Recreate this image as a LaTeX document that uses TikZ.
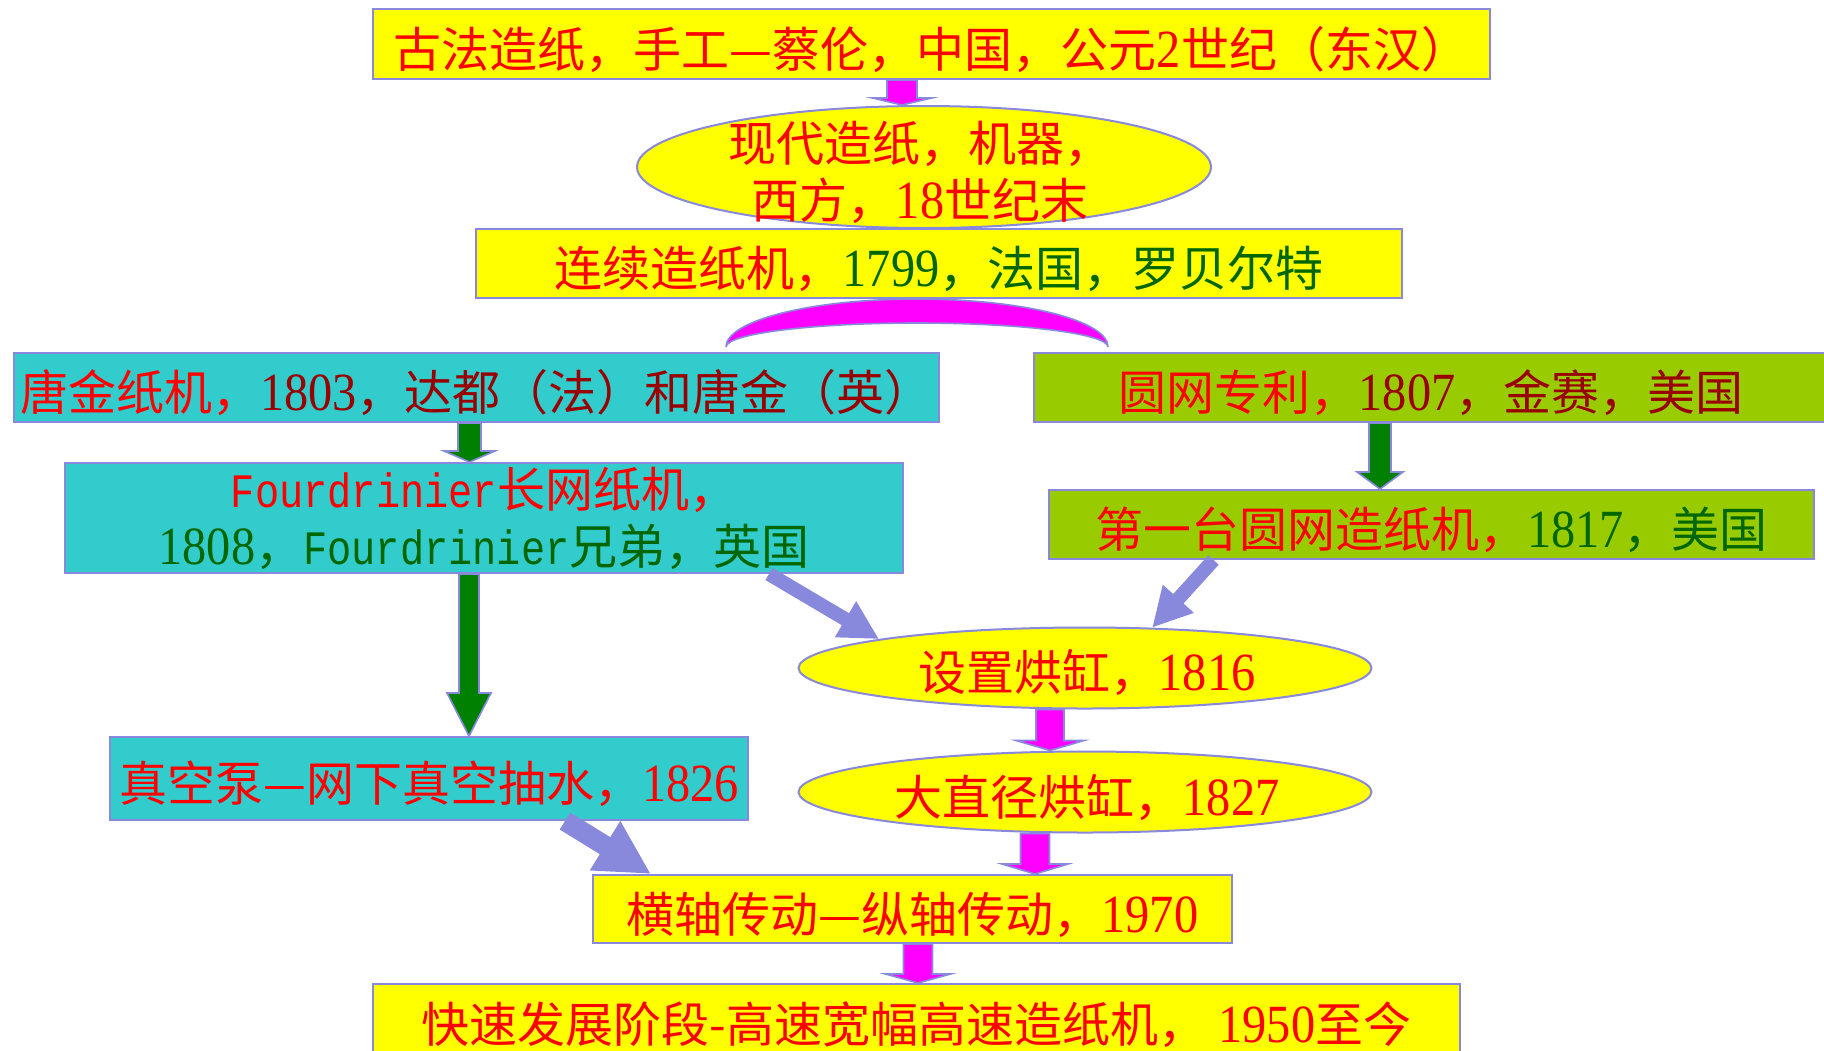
\documentclass[tikz,border=0pt]{standalone}
\usepackage{fontspec}
\newfontfamily\cjk{Noto Sans CJK SC}
\newfontfamily\yrfont[Scale=1.12, FakeStretch=0.9]{Liberation Serif}
\newfontfamily\enfont[FakeStretch=0.84]{Liberation Mono}
\usetikzlibrary{shapes.geometric,arrows.meta,calc}
\definecolor{edge}{RGB}{136,136,221}
\definecolor{boxyellow}{RGB}{255,255,0}
\definecolor{pink}{RGB}{255,0,255}
\definecolor{tealbox}{HTML}{33CCCC}
\definecolor{limebox}{HTML}{99CC00}
\definecolor{fontred}{RGB}{255,0,0}
\definecolor{dkred}{HTML}{990000}
\definecolor{dkgreen}{HTML}{006600}
\definecolor{arrowgreen}{HTML}{008000}
\newcommand{\yr}[1]{{\yrfont #1}}
\newcommand{\en}[1]{{\enfont #1}}
% fill, from, to, shaft half width, head half width, head length
\newcommand{\blockarrow}[6]{%
	\draw[blockedge, fill=#1] let \p1=(#2), \p2=(#3) in
		(\x1-#4,\y1) -- (\x1-#4,\y2+#6) -- (\x1-#5,\y2+#6) -- (\x1,\y2)
		-- (\x1+#5,\y2+#6) -- (\x1+#4,\y2+#6) -- (\x1+#4,\y1) -- cycle;}
\begin{document}
\begin{tikzpicture}[x=0.5pt, y=-0.5pt,
		txt/.style={text=fontred, inner sep=0pt, font=\cjk\fontsize{24}{28.5}\selectfont},
		box/.style={txt, draw=edge, line width=1pt, text height=23pt, text depth=0pt},
		ellip/.style={ellipse, draw=edge, line width=1pt, fill=boxyellow, inner sep=0pt},
		blockedge/.style={draw=edge, line width=0.8pt},
		lavarrow/.style={draw=edge, line width=7pt, -{Triangle[length=19.5pt,width=19.5pt]}}]
	\useasboundingbox (0,0) rectangle (1824,1050);
	\clip (0,0) rectangle (1824,1050);

	\node[box, fill=boxyellow, minimum width=558.5pt, minimum height=35pt] (ancient) at (931.5,44)
		{古法造纸，手工—蔡伦，中国，公元\yr{2}世纪（东汉）};
	\node[ellip, minimum width=287pt, minimum height=61pt] (modern) at (924,167) {};
	\node[txt, align=center] (modern-t) at (920,172) {现代造纸，机器，\\西方，\yr{18}世纪末};
	\node[box, fill=boxyellow, minimum width=463pt, minimum height=34.5pt] (continuous) at (939,263.5)
		{连续造纸机，{\color{dkgreen}\yr{1799}，法国，罗贝尔特}};

	\node[box, fill=tealbox, minimum width=462.5pt, minimum height=34.5pt] (donkin) at (476.5,387.5)
		{唐金纸机，{\color{dkred}\yr{1803}，达都（法）和唐金（英）}};
	\node[box, fill=limebox, minimum width=397pt, minimum height=34.5pt] (patent) at (1431,387.5)
		{圆网专利，{\color{dkred}\yr{1807}，金赛，美国}};
	\node[box, fill=tealbox, minimum width=419pt, minimum height=55pt, align=center,
		text height={}, text depth={}] (fourdrinier) at (484,518)
		{\en{Fourdrinier}长网纸机，\\{\color{dkgreen}\yr{1808}，\en{Fourdrinier}兄弟，英国}};
	\node[box, fill=limebox, minimum width=382.5pt, minimum height=34.5pt] (cylinder) at (1431.5,524.5)
		{第一台圆网造纸机，{\color{dkgreen}\yr{1817}，美国}};

	\node[ellip, minimum width=286.5pt, minimum height=40.5pt] (dryer) at (1085,668) {};
	\node[txt] (dryer-t) at (1087,673) {设置烘缸，\yr{1816}};
	\node[ellip, minimum width=286.5pt, minimum height=40.5pt] (bigdryer) at (1085,792) {};
	\node[txt] (bigdryer-t) at (1087,798) {大直径烘缸，\yr{1827}};
	\node[box, fill=tealbox, minimum width=319pt, minimum height=41.5pt] (vacuum) at (429,778.5)
		{真空泵—网下真空抽水，\yr{1826}};
	\node[box, fill=boxyellow, minimum width=319.5pt, minimum height=34pt] (drive) at (912.5,909)
		{横轴传动—纵轴传动，\yr{1970}};
	\node[box, fill=boxyellow, minimum width=543.5pt, minimum height=35pt] (highspeed) at (916.5,1019)
		{快速发展阶段-高速宽幅高速造纸机，\yr{ 1950}至今};

	% block arrows
	\blockarrow{pink}{[xshift=-14.75pt]ancient.south}{modern.north}{7.5pt}{14.75pt}{3.5pt}
	\blockarrow{arrowgreen}{[xshift=-3.5pt]donkin.south}{fourdrinier.north}{5.75pt}{12.75pt}{5.5pt}
	\blockarrow{arrowgreen}{[xshift=-25.5pt]patent.south}{cylinder.north}{5.5pt}{11.5pt}{8.5pt}
	\blockarrow{arrowgreen}{[xshift=-7.5pt]fourdrinier.south}{vacuum.north}{5pt}{11pt}{21.5pt}
	\blockarrow{pink}{[xshift=-17.5pt]dryer.south}{bigdryer.north}{7pt}{17pt}{5pt}
	\blockarrow{pink}{[xshift=-25pt]bigdryer.south}{drive.north}{7.25pt}{16.5pt}{5pt}
	\blockarrow{pink}{[xshift=2.75pt]drive.south}{highspeed.north}{7.25pt}{16.25pt}{4.5pt}

	% split under the 1799 machine
	\coordinate (fork) at ([xshift=-11pt,yshift=-24pt]continuous.south);
	\draw[blockedge, fill=pink] ([xshift=-95.5pt]fork)
		arc[start angle=180, end angle=0, x radius=95.5pt, y radius=24pt]
		arc[start angle=0, end angle=180, x radius=95.5pt, y radius=12pt] -- cycle;

	\draw[lavarrow] ([xshift=-67.5pt]fourdrinier.south east) -- (dryer.172);
	\draw[lavarrow] ([xshift=-109pt]cylinder.south) -- (dryer.31);
	\draw[lavarrow, line width=10pt, -{Triangle[length=27pt,width=27pt]}] ([xshift=68pt]vacuum.south) -- ([xshift=29.5pt]drive.north west);
\end{tikzpicture}
\end{document}
